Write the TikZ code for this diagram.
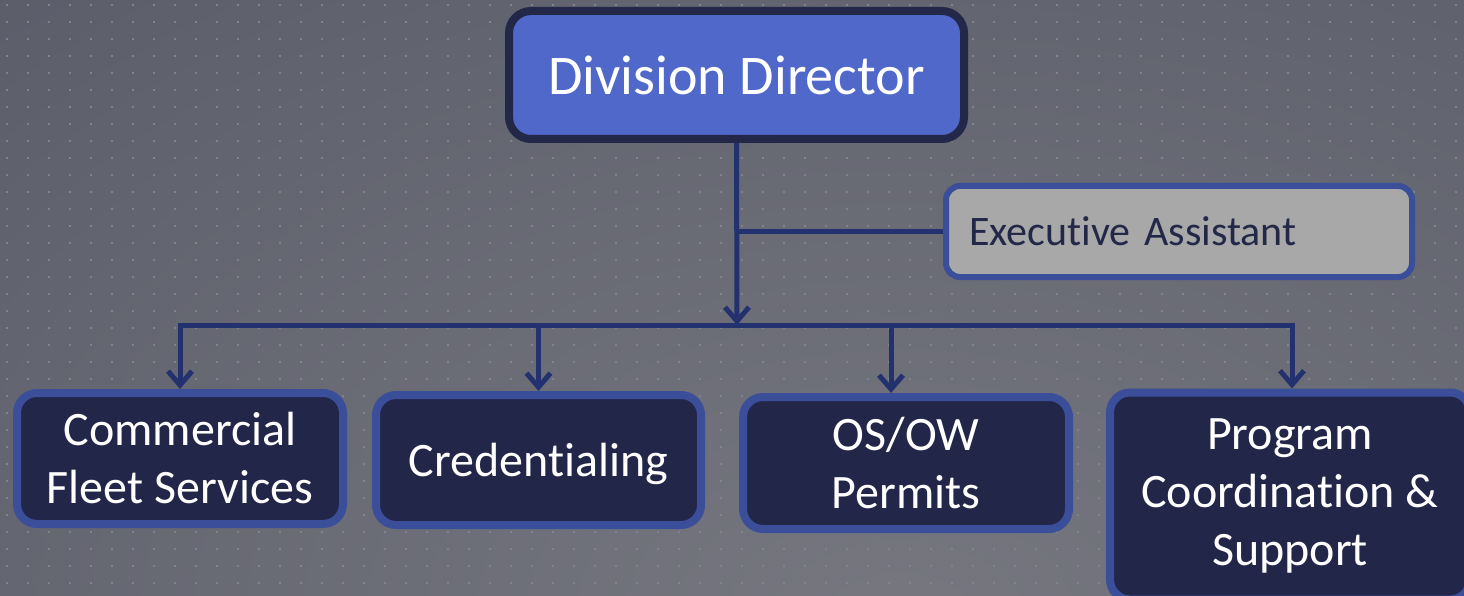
\documentclass[tikz,border=0pt]{standalone}
\usepackage{fontspec}
\setmainfont{Carlito}[Ligatures=NoCommon]
\usepackage{tikz}
\usetikzlibrary{calc}
\usetikzlibrary{shapes}
\usetikzlibrary{arrows.meta}

\definecolor{bgdark}{HTML}{4A4D5C}
\definecolor{bglight}{HTML}{76777F}
\definecolor{dotgray}{HTML}{80828E}
\definecolor{linkblue}{HTML}{24316F}
\definecolor{edgeblue}{HTML}{3B4E9A}
\definecolor{navyfill}{HTML}{222648}
\definecolor{topfill}{HTML}{4F68C9}
\definecolor{topedge}{HTML}{232848}
\definecolor{assistfill}{HTML}{A8A8A8}

\begin{document}
\begin{tikzpicture}[x=1pt, y=-1pt,
  unitbox/.style={rectangle, rounded corners=20pt, draw=edgeblue, line width=8pt, fill=navyfill, text=white, align=center, inner sep=0pt, font=\fontsize{48}{58}\selectfont},
  topbox/.style={rectangle, rounded corners=22pt, draw=topedge, line width=8pt, fill=topfill, text=white, minimum width=455pt, minimum height=128pt, font=\fontsize{56}{64}\selectfont},
  assistbox/.style={rectangle, rounded corners=14pt, draw=edgeblue, line width=6pt, fill=assistfill, text=topedge, minimum height=91pt, text width=420pt, inner xsep=23pt, align=left, font=\fontsize{42}{48}\selectfont},
  link/.style={draw=linkblue, line width=5pt},
  barb/.tip={Straight Barb[length=14pt, width=24pt, line width=5pt]},
  arr/.style={link, -barb}]
\useasboundingbox (0,0) rectangle (1464,596);
% background with dots
\begin{scope}
\clip (0,0) rectangle (1464,596);
\fill[bgdark] (0,0) rectangle (1464,596);
\shade[inner color=bglight, outer color=bgdark] (900-2200,620-1400) rectangle (900+2200,620+1400);
\foreach \i in {0,...,69}
  \foreach \j in {0,...,34}
    \fill[dotgray] ({5.8+21*\i},{3.8+17*\j}) rectangle +(2.4,2.4);
\end{scope}
% boxes
\draw (736.5,75) node[topbox, name = dd]{Division Director};
\draw (1179,231.5) node[assistbox, name = ea]{Executive Assistant};
\draw (180,458.5) node[unitbox, minimum width=326pt, minimum height=131pt, name = cfs]{Commercial\\Fleet Services};
\draw (538.5,460) node[unitbox, minimum width=325pt, minimum height=130pt, name = cred]{\raisebox{-16pt}[0pt][0pt]{Credentialing}};
\draw (906,463) node[unitbox, minimum width=326pt, minimum height=132pt, name = osow]{OS/OW\\Permits};
\draw (1290,496) node[unitbox, minimum width=360pt, minimum height=207pt, name = pcs]{Program\\Coordination \&\\Support};
% connectors
\coordinate (j) at (737,325);
\draw[arr] (dd.south) -- (j);
\draw[link] (ea.west) -- (ea.west -| dd.south);
\draw[link, barb-barb] (cfs.north) -- (cfs.north |- j) -- ([xshift=2pt]pcs.north |- j) -- ([xshift=2pt]pcs.north);
\draw[arr] (cred.north |- j) -- (cred.north);
\draw[arr] ([xshift=-15pt]osow.north |- j) -- ([xshift=-15pt]osow.north);
\end{tikzpicture}
\end{document}
